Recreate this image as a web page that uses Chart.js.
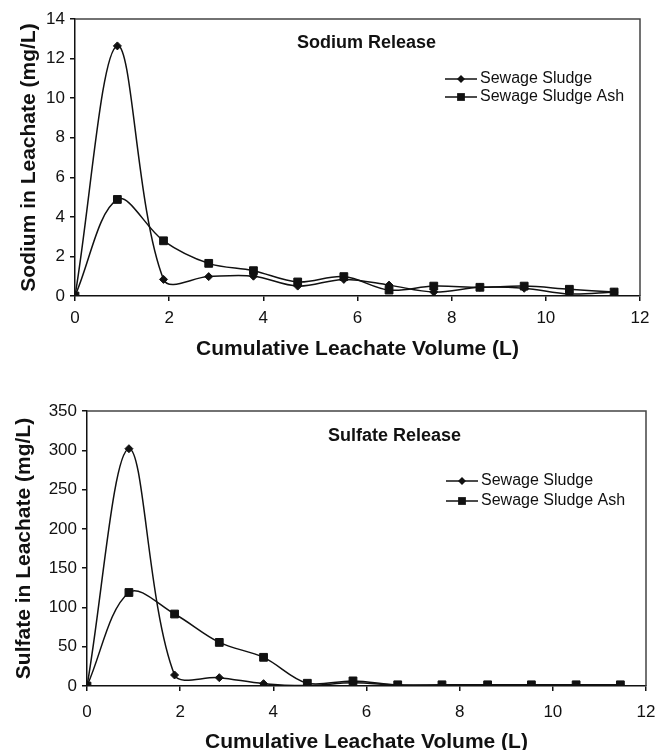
<!DOCTYPE html>
<html>
<head>
<meta charset="utf-8">
<title>Sodium and Sulfate Release</title>
<script src="https://cdn.jsdelivr.net/npm/chart.js@4/dist/chart.umd.min.js"></script>
<style>
  html, body { margin: 0; padding: 0; background: #fff; overflow: hidden; }
  #wrap { position: relative; width: 656px; height: 750px; }
  canvas { position: absolute; left: 0; }
  #sodiumChart { top: 0; }
  #sulfateChart { top: 370px; }
</style>
</head>
<body>
<div id="wrap">
  <canvas id="sodiumChart" width="656" height="370"></canvas>
  <canvas id="sulfateChart" width="656" height="385"></canvas>
</div>
<script>
// cumulative leachate volume (L), same for every series
const volumeL = [0, 0.9, 1.88, 2.84, 3.79, 4.73, 5.71, 6.67, 7.62, 8.6, 9.54, 10.5, 11.45];

// sodium (mg/L)
const sodiumSludge = [0, 12.64, 0.84, 0.98, 1.0, 0.5, 0.84, 0.55, 0.2, 0.44, 0.39, 0.1, 0.2];
const sodiumAsh    = [0, 4.88, 2.79, 1.65, 1.28, 0.71, 0.98, 0.3, 0.5, 0.44, 0.5, 0.34, 0.2];

// sulfate (mg/L)
const sulfateSludge = [0, 302, 14, 10.6, 3, 0.5, 4, 1, 1, 1, 1, 1, 1];
const sulfateAsh    = [0, 119, 91.6, 55.5, 36.5, 3.5, 6.5, 1.5, 1.5, 1.5, 1.5, 1.5, 1.5];

const seriesNames = ['Sewage Sludge', 'Sewage Sludge Ash'];
const xTicks = [0, 2, 4, 6, 8, 10, 12];
const sodiumTicks = [0, 2, 4, 6, 8, 10, 12, 14];
const sulfateTicks = [0, 50, 100, 150, 200, 250, 300, 350];

const FONT = 'Arial, "Liberation Sans", sans-serif';
const INK = '#111';

function toPoints(ys){
  return volumeL.map((x, i) => ({ x: x, y: ys[i] }));
}

function drawMarker(ctx, style, x, y, r){
  ctx.beginPath();
  if (style === 'rectRot') {
    ctx.moveTo(x, y - r); ctx.lineTo(x + r, y); ctx.lineTo(x, y + r); ctx.lineTo(x - r, y);
  } else {
    const s = r * Math.SQRT1_2;
    ctx.rect(x - s, y - s, 2 * s, 2 * s);
  }
  ctx.closePath();
  ctx.fill();
}

// frame on top/right, panel title and legend inside the plot
const panelText = {
  id: 'panelText',
  afterDraw(chart, args, opts){
    const ctx = chart.ctx;
    const a = chart.chartArea;
    ctx.save();
    ctx.strokeStyle = '#444';
    ctx.lineWidth = 1.5;
    ctx.beginPath();
    ctx.moveTo(a.left, a.top);
    ctx.lineTo(a.right, a.top);
    ctx.lineTo(a.right, a.bottom);
    ctx.stroke();

    ctx.fillStyle = INK;
    ctx.textAlign = 'left';
    ctx.textBaseline = 'middle';
    ctx.font = 'bold 18px ' + FONT;
    ctx.fillText(opts.title, opts.titleX, opts.titleY);

    ctx.font = '16px ' + FONT;
    ctx.strokeStyle = INK;
    ctx.lineWidth = 1.5;
    chart.data.datasets.forEach((ds, i) => {
      const y = opts.legendY + i * opts.legendGap;
      ctx.beginPath();
      ctx.moveTo(opts.legendX, y);
      ctx.lineTo(opts.legendX + 32, y);
      ctx.stroke();
      drawMarker(ctx, ds.pointStyle, opts.legendX + 16, y, ds.pointRadius);
      ctx.fillText(ds.label, opts.legendX + 35, y);
    });
    ctx.restore();
  }
};

function makeChart(id, p){
  const datasets = [
    { label: seriesNames[0], data: toPoints(p.sludge), pointStyle: 'rectRot', pointRadius: 4 },
    { label: seriesNames[1], data: toPoints(p.ash), pointStyle: 'rect', pointRadius: 5.5 }
  ].map(d => Object.assign(d, {
    borderColor: INK,
    backgroundColor: INK,
    pointBackgroundColor: INK,
    pointBorderColor: INK,
    pointBorderWidth: 1,
    borderWidth: 1.5,
    tension: 0.35,
    fill: false
  }));

  return new Chart(document.getElementById(id), {
    type: 'line',
    data: { datasets },
    plugins: [panelText],
    options: {
      responsive: false,
      animation: false,
      layout: { padding: p.padding },
      scales: {
        x: {
          type: 'linear',
          min: 0,
          max: 12,
          afterBuildTicks: s => { s.ticks = xTicks.map(v => ({ value: v })); },
          // fixed axis height, no extra room for the end labels
          afterFit: s => { s.height = p.xHeight; s.paddingLeft = 0; s.paddingRight = 0; },
          ticks: { font: { size: 17, family: FONT }, color: INK, padding: p.xTickPad, maxRotation: 0 },
          grid: { drawOnChartArea: false, tickLength: 5, color: INK, lineWidth: 1.5 },
          border: { color: INK, width: 1.5 },
          title: {
            display: true,
            text: 'Cumulative Leachate Volume (L)',
            font: { size: 21, weight: 'bold', family: FONT },
            color: INK,
            padding: { top: 0, bottom: p.xTitlePad }
          }
        },
        y: {
          min: 0,
          max: p.yTicks[p.yTicks.length - 1],
          afterBuildTicks: s => { s.ticks = p.yTicks.map(v => ({ value: v })); },
          afterFit: s => { s.width = p.yWidth; s.paddingTop = 0; s.paddingBottom = 0; },
          ticks: { font: { size: 17, family: FONT }, color: INK, padding: 5 },
          grid: { drawOnChartArea: false, tickLength: 5, color: INK, lineWidth: 1.5 },
          border: { color: INK, width: 1.5 },
          title: {
            display: true,
            text: p.yTitle,
            font: { size: 21, weight: 'bold', family: FONT },
            color: INK,
            padding: { top: p.yTitlePad, bottom: 0 }
          }
        }
      },
      plugins: {
        legend: { display: false },
        tooltip: { enabled: false },
        panelText: p.panel
      }
    }
  });
}

makeChart('sodiumChart', {
  sludge: sodiumSludge,
  ash: sodiumAsh,
  yTicks: sodiumTicks,
  yTitle: 'Sodium in Leachate (mg/L)',
  padding: { top: 19, right: 16, left: 0, bottom: 0 },
  xHeight: 74,
  yWidth: 75,
  xTickPad: 7,
  xTitlePad: 8,
  yTitlePad: 17,
  panel: { title: 'Sodium Release', titleX: 297, titleY: 43, legendX: 445, legendY: 79, legendGap: 18 }
});

makeChart('sulfateChart', {
  sludge: sulfateSludge,
  ash: sulfateAsh,
  yTicks: sulfateTicks,
  yTitle: 'Sulfate in Leachate (mg/L)',
  padding: { top: 41, right: 10, left: 0, bottom: 0 },
  xHeight: 69,
  yWidth: 87,
  xTickPad: 11,
  xTitlePad: 0,
  yTitlePad: 12,
  panel: { title: 'Sulfate Release', titleX: 328, titleY: 66, legendX: 446, legendY: 111, legendGap: 20 }
});
</script>
</body>
</html>
